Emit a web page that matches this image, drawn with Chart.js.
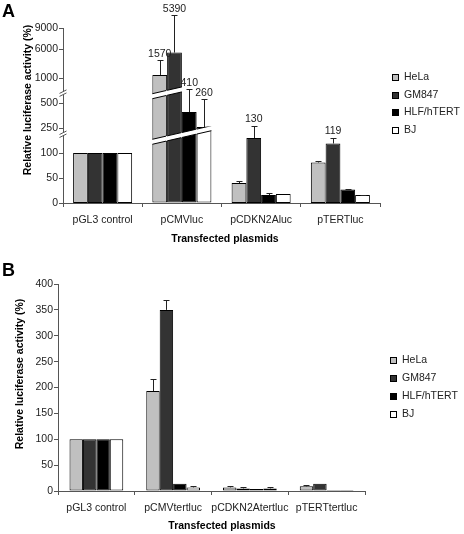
<!DOCTYPE html>
<html>
<head>
<meta charset="utf-8">
<script src="https://cdn.jsdelivr.net/npm/chart.js@4.4.1/dist/chart.umd.min.js"></script>
<style>
  html, body { margin: 0; padding: 0; background: #fff; }
  #wrap { position: relative; width: 464px; height: 534px; }
  canvas { position: absolute; left: 0; }
  #chartA { top: 0; }
  #chartB { top: 258px; }
</style>
</head>
<body>
<div id="wrap">
  <canvas id="chartA" width="464" height="258"></canvas>
  <canvas id="chartB" width="464" height="276"></canvas>
</div>
<script>
const seriesNames = ['HeLa', 'GM847', 'HLF/hTERT', 'BJ'];
const seriesColors = ['#c0c0c0', '#333333', '#000000', '#ffffff'];

// panel A
const categoriesA = ['pGL3 control', 'pCMVluc', 'pCDKN2Aluc', 'pTERTluc'];
const helaA = [100, 1570, 40, 81];
const gm847A = [100, 5390, 130, 119];
const hlfA = [100, 410, 16, 27];
const bjA = [100, 260, 18, 16];
const helaErrA = [0, 2550, 4, 3];
const gm847ErrA = [0, 5470, 25, 12];
const hlfErrA = [0, 407, 4, 2];
const bjErrA = [0, 280, 0, 1];
const brokenCategoryA = 1; // pCMVluc is drawn on the broken axis
const yTicksA = [0, 50, 100, 250, 500, 1000, 6000, 9000];
const labelledA = [[0, 1], [1, 1], [2, 1], [3, 1], [1, 2], [1, 3]]; // [series, category]

// panel B
const categoriesB = ['pGL3 control', 'pCMVtertluc', 'pCDKN2Atertluc', 'pTERTtertluc'];
const helaB = [100, 193, 7, 9];
const gm847B = [100, 350, 5, 14];
const hlfB = [100, 14, 4, 2];
const bjB = [100, 7, 5, 2];
const helaErrB = [0, 24, 2, 2];
const gm847ErrB = [0, 20, 2, 0];
const hlfErrB = [0, 0, 0, 0];
const bjErrB = [0, 2.5, 2, 0];

const FONT = "'Liberation Sans', Arial, sans-serif";
const axisColor = '#555';
const textColor = '#222';
Chart.defaults.font.family = FONT;
Chart.defaults.font.size = 10.5;
Chart.defaults.color = textColor;

// broken value axis: piecewise map [real value, virtual units]
const brokenKnots = [[0, 0], [140, 70], [220, 72], [250, 75], [500, 100], [590, 109],
  [800, 113], [1000, 124.7], [6000, 154], [9000, 175], [12000, 196]];

function piecewise(v, from, to) {
  const k = brokenKnots;
  let i = 1;
  while (i < k.length - 1 && v > k[i][from]) i++;
  const a = k[i - 1], b = k[i];
  return a[to] + (v - a[from]) * (b[to] - a[to]) / (b[from] - a[from]);
}

class BrokenScale extends Chart.LinearScale {
  static id = 'broken';
  buildTicks() {
    return yTicksA.map(value => ({ value }));
  }
  getPixelForValue(value) {
    if (value === null || value === undefined) return NaN;
    return super.getPixelForValue(piecewise(value, 0, 1));
  }
  getValueForPixel(pixel) {
    return piecewise(super.getValueForPixel(pixel), 1, 0);
  }
}
Chart.register(BrokenScale);

function makeSet(s, data, errors, axis, catPct) {
  return {
    label: seriesNames[s],
    seriesIndex: s,
    data: data,
    errors: errors,
    yAxisID: axis,
    backgroundColor: seriesColors[s],
    borderColor: '#000',
    borderWidth: 1,
    borderSkipped: false,
    skipNull: true,
    barPercentage: 1,
    categoryPercentage: catPct
  };
}

function decorPlugin(cfg) {
  return {
    id: 'decor',
    afterDatasetsDraw(chart) {
      const ctx = chart.ctx;
      ctx.save();

      // white break bands across the bars of the broken category
      if (cfg.bands) {
        const yb = chart.scales[cfg.brokenAxis];
        const cx = chart.scales.x.getPixelForValue(cfg.brokenCategory);
        chart.data.datasets.forEach((ds, di) => {
          if (ds.yAxisID !== cfg.brokenAxis) return;
          const bar = chart.getDatasetMeta(di).data[cfg.brokenCategory];
          if (!bar) return;
          const xl = bar.x - bar.width / 2, xr = bar.x + bar.width / 2;
          cfg.bands.forEach(b => {
            const yc = yb.getPixelForValue(b.value);
            const yAt = x => yc + b.slope * (x - cx);
            ctx.save();
            ctx.beginPath();
            ctx.rect(xl - 1, bar.y - 0.5, xr - xl + 2, bar.base - bar.y + 1);
            ctx.clip();
            ctx.beginPath();
            ctx.moveTo(xl - 1, yAt(xl - 1) - b.height / 2);
            ctx.lineTo(xr + 1, yAt(xr + 1) - b.height / 2);
            ctx.lineTo(xr + 1, yAt(xr + 1) + b.height / 2);
            ctx.lineTo(xl - 1, yAt(xl - 1) + b.height / 2);
            ctx.closePath();
            ctx.fillStyle = '#fff';
            ctx.fill();
            ctx.strokeStyle = '#000';
            ctx.lineWidth = 1;
            ctx.beginPath();
            ctx.moveTo(xl, yAt(xl) - b.height / 2);
            ctx.lineTo(xr, yAt(xr) - b.height / 2);
            ctx.moveTo(xl, yAt(xl) + b.height / 2);
            ctx.lineTo(xr, yAt(xr) + b.height / 2);
            ctx.stroke();
            ctx.restore();
          });
        });
      }

      // error bars (upper only) and value labels
      ctx.strokeStyle = '#222';
      ctx.lineWidth = 1;
      ctx.font = '10.5px ' + FONT;
      ctx.fillStyle = textColor;
      ctx.textAlign = 'center';
      ctx.textBaseline = 'bottom';
      chart.data.datasets.forEach((ds, di) => {
        const meta = chart.getDatasetMeta(di);
        const ys = meta.vScale;
        ds.data.forEach((v, i) => {
          if (v === null) return;
          const bar = meta.data[i];
          const e = ds.errors[i] || 0;
          const top = ys.getPixelForValue(v + e);
          const x = Math.round(bar.x) + 0.5;
          if (e > 0) {
            const t = Math.round(top) + 0.5;
            ctx.beginPath();
            ctx.moveTo(x, bar.y);
            ctx.lineTo(x, t);
            ctx.moveTo(x - 3, t);
            ctx.lineTo(x + 3, t);
            ctx.stroke();
          }
          if (cfg.labelled && cfg.labelled.some(p => p[0] === ds.seriesIndex && p[1] === i)) {
            ctx.fillText(String(v), bar.x, top - 1);
          }
        });
      });
      ctx.restore();
    },
    afterDraw(chart) {
      const ctx = chart.ctx;
      ctx.save();

      // break marks on the value axis
      if (cfg.axisBreaks) {
        const yb = chart.scales[cfg.brokenAxis];
        const x = yb.right;
        cfg.axisBreaks.forEach(v => {
          const y = yb.getPixelForValue(v);
          ctx.fillStyle = '#fff';
          ctx.beginPath();
          ctx.moveTo(x - 3, y + 1.5);
          ctx.lineTo(x + 3, y - 1.5);
          ctx.lineTo(x + 3, y + 1.5);
          ctx.lineTo(x - 3, y + 4.5);
          ctx.closePath();
          ctx.fill();
          ctx.strokeStyle = axisColor;
          ctx.lineWidth = 1;
          ctx.beginPath();
          ctx.moveTo(x - 3.5, y + 1.5);
          ctx.lineTo(x + 3.5, y - 2);
          ctx.moveTo(x - 3.5, y + 4.5);
          ctx.lineTo(x + 3.5, y + 1);
          ctx.stroke();
        });
      }

      // panel letter
      ctx.fillStyle = '#000';
      ctx.font = 'bold 18px ' + FONT;
      ctx.textAlign = 'left';
      ctx.textBaseline = 'alphabetic';
      ctx.fillText(cfg.letter, cfg.letterPos[0], cfg.letterPos[1]);

      // axis titles
      ctx.font = 'bold 10.5px ' + FONT;
      ctx.textAlign = 'center';
      ctx.textBaseline = 'middle';
      ctx.fillText('Transfected plasmids', cfg.xTitle[0], cfg.xTitle[1]);
      ctx.save();
      ctx.translate(cfg.yTitle[0], cfg.yTitle[1]);
      ctx.rotate(-Math.PI / 2);
      ctx.fillText('Relative luciferase activity (%)', 0, 0);
      ctx.restore();

      // legend
      ctx.font = '10.5px ' + FONT;
      ctx.textAlign = 'left';
      ctx.fillStyle = textColor;
      seriesNames.forEach((name, s) => {
        const y = cfg.legend.y + s * cfg.legend.step;
        ctx.fillStyle = seriesColors[s];
        ctx.fillRect(cfg.legend.x, Math.round(y) - 3, 6, 6);
        ctx.strokeStyle = '#000';
        ctx.lineWidth = 1;
        ctx.strokeRect(cfg.legend.x + 0.5, Math.round(y) - 2.5, 6, 6);
        ctx.fillStyle = textColor;
        ctx.fillText(name, cfg.legend.x + 12, y + 0.5);
      });
      ctx.restore();
    }
  };
}

function axisX(height) {
  return {
    grid: { offset: true, drawOnChartArea: false, tickLength: 4, color: axisColor },
    border: { color: axisColor },
    ticks: { padding: 7, color: textColor, maxRotation: 0, autoSkip: false },
    afterFit: s => { s.height = height; }
  };
}

// ---- panel A ----
const valuesA = [helaA, gm847A, hlfA, bjA];
const errorsA = [helaErrA, gm847ErrA, hlfErrA, bjErrA];
const setsA = [];
valuesA.forEach((vals, s) => setsA.push(makeSet(s,
  vals.map((v, i) => i === brokenCategoryA ? null : v), errorsA[s], 'y', 0.745)));
valuesA.forEach((vals, s) => setsA.push(makeSet(s,
  vals.map((v, i) => i === brokenCategoryA ? v : null), errorsA[s], 'yb', 0.745)));

new Chart(document.getElementById('chartA'), {
  type: 'bar',
  data: { labels: categoriesA, datasets: setsA },
  options: {
    responsive: false,
    animation: false,
    devicePixelRatio: 1,
    layout: { padding: { left: 0, right: 84, top: 28, bottom: 0 } },
    plugins: { legend: { display: false }, tooltip: { enabled: false } },
    scales: {
      x: axisX(55),
      y: { type: 'linear', display: false, min: 0, max: 350 },
      yb: {
        type: 'broken',
        position: 'left',
        min: 0,
        max: 175,
        grid: { drawOnChartArea: false, tickLength: 4, color: axisColor },
        border: { color: axisColor },
        ticks: { autoSkip: false, padding: 1, color: textColor, callback: v => String(v) },
        afterFit: s => { s.width = 63; }
      }
    }
  },
  plugins: [decorPlugin({
    letter: 'A', letterPos: [2, 17],
    xTitle: [225, 239], yTitle: [28, 100],
    legend: { x: 392, y: 77, step: 17.5 },
    brokenAxis: 'yb', brokenCategory: brokenCategoryA,
    bands: [{ value: 136, slope: -0.23, height: 5 }, { value: 810, slope: -0.23, height: 5 }],
    axisBreaks: [140, 700],
    labelled: labelledA
  })]
});

// ---- panel B ----
const valuesB = [helaB, gm847B, hlfB, bjB];
const errorsB = [helaErrB, gm847ErrB, hlfErrB, bjErrB];
const setsB = valuesB.map((vals, s) => makeSet(s, vals, errorsB[s], 'y', 0.70));

new Chart(document.getElementById('chartB'), {
  type: 'bar',
  data: { labels: categoriesB, datasets: setsB },
  options: {
    responsive: false,
    animation: false,
    devicePixelRatio: 1,
    layout: { padding: { left: 0, right: 99, top: 26, bottom: 0 } },
    plugins: { legend: { display: false }, tooltip: { enabled: false } },
    scales: {
      x: axisX(43),
      y: {
        min: 0,
        max: 400,
        grid: { drawOnChartArea: false, tickLength: 4, color: axisColor },
        border: { color: axisColor },
        ticks: { stepSize: 50, autoSkip: false, padding: 1, color: textColor },
        afterFit: s => { s.width = 58; }
      }
    }
  },
  plugins: [decorPlugin({
    letter: 'B', letterPos: [2, 18],
    xTitle: [222, 268], yTitle: [20.5, 116],
    legend: { x: 390, y: 102, step: 18 }
  })]
});
</script>
</body>
</html>
